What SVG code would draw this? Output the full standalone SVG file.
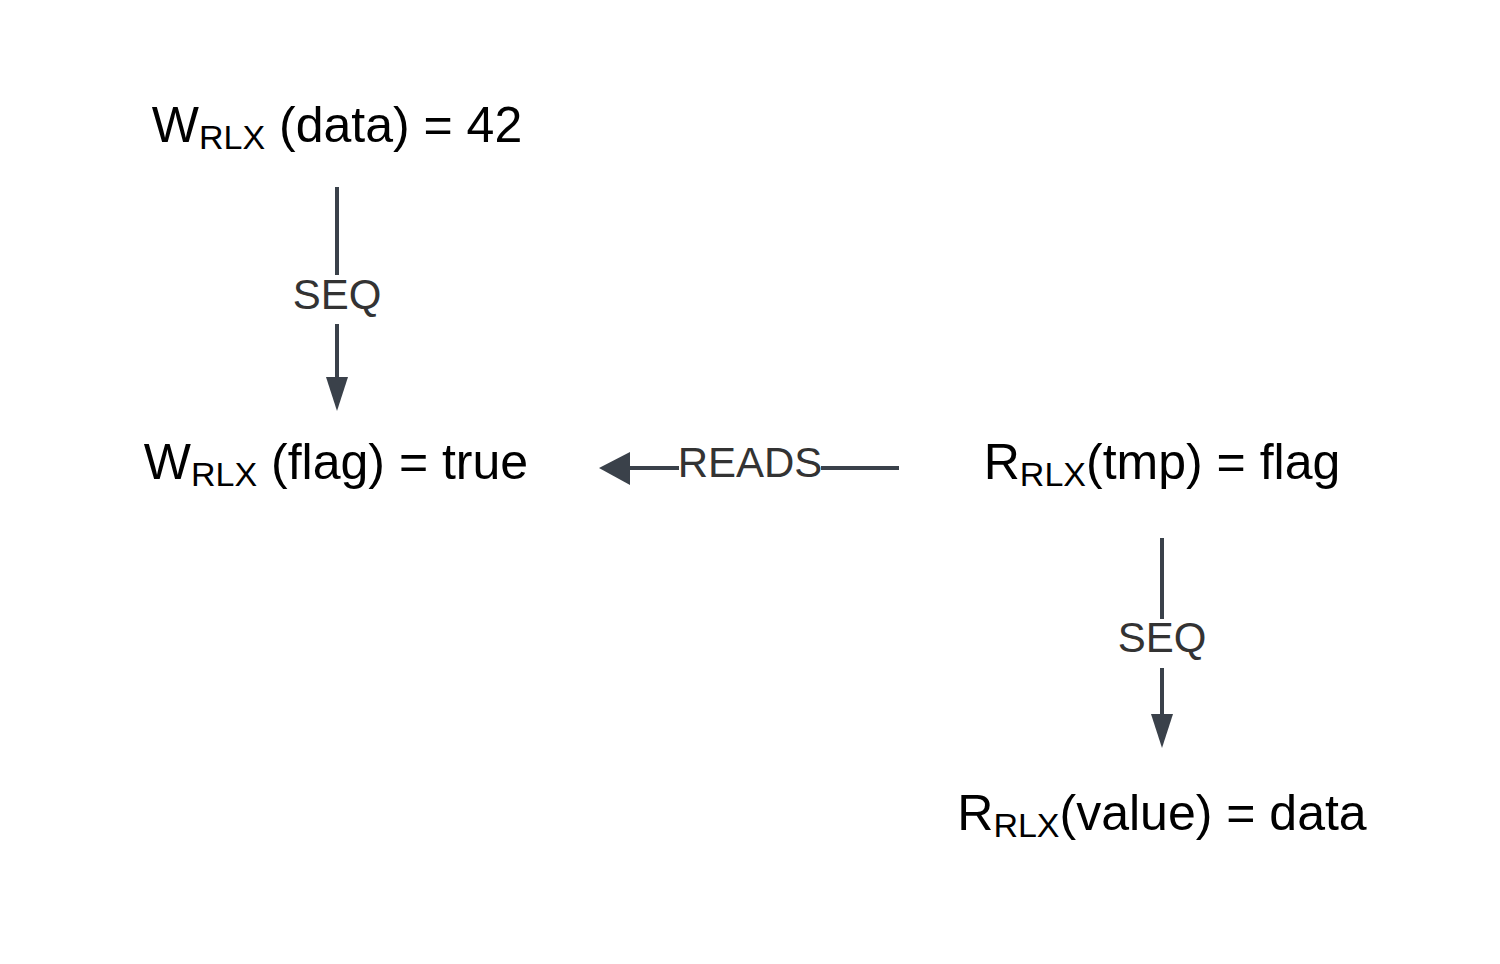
<svg xmlns="http://www.w3.org/2000/svg" width="1500" height="964" viewBox="0 0 1500 964">
<style>
.node{font-family:"Liberation Sans",Arial,sans-serif;font-size:50px;fill:#000;}
.sub{font-size:34px;}
.lbl{font-family:"Liberation Sans",Arial,sans-serif;font-size:42px;fill:#333333;text-anchor:middle;}
.ln{stroke:#3a414a;stroke-width:4;fill:none;}
.ah{fill:#3a414a;}
</style>
<rect width="1500" height="964" fill="#ffffff"/>
<g id="node-w-data">
<text class="node" x="337" y="142" text-anchor="middle">W<tspan class="sub" dy="7">RLX</tspan><tspan dy="-7"> (data) = 42</tspan></text>
</g>
<g id="node-w-flag">
<text class="node" x="336" y="479" text-anchor="middle">W<tspan class="sub" dy="7">RLX</tspan><tspan dy="-7"> (flag) = true</tspan></text>
</g>
<g id="node-r-tmp">
<text class="node" x="1162" y="479" text-anchor="middle">R<tspan class="sub" dy="7">RLX</tspan><tspan dy="-7">(tmp) = flag</tspan></text>
</g>
<g id="node-r-value">
<text class="node" x="1162" y="830" text-anchor="middle">R<tspan class="sub" dy="7">RLX</tspan><tspan dy="-7">(value) = data</tspan></text>
</g>
<g id="connectors">
<g id="edge-seq-1">
<line class="ln" x1="337" y1="187" x2="337" y2="275"/>
<line class="ln" x1="337" y1="324" x2="337" y2="380"/>
<polygon class="ah" points="326,377 348,377 337,411"/>
<text class="lbl" x="337" y="309">SEQ</text>
</g>
<g id="edge-reads">
<line class="ln" x1="899" y1="468" x2="821" y2="468"/>
<line class="ln" x1="679" y1="468" x2="627" y2="468"/>
<polygon class="ah" points="630,452 630,485 599,468"/>
<text class="lbl" x="750" y="477">READS</text>
</g>
<g id="edge-seq-2">
<line class="ln" x1="1162" y1="538" x2="1162" y2="619"/>
<line class="ln" x1="1162" y1="668" x2="1162" y2="717"/>
<polygon class="ah" points="1151,714 1173,714 1162,748"/>
<text class="lbl" x="1162" y="652">SEQ</text>
</g>
</g>
</svg>
